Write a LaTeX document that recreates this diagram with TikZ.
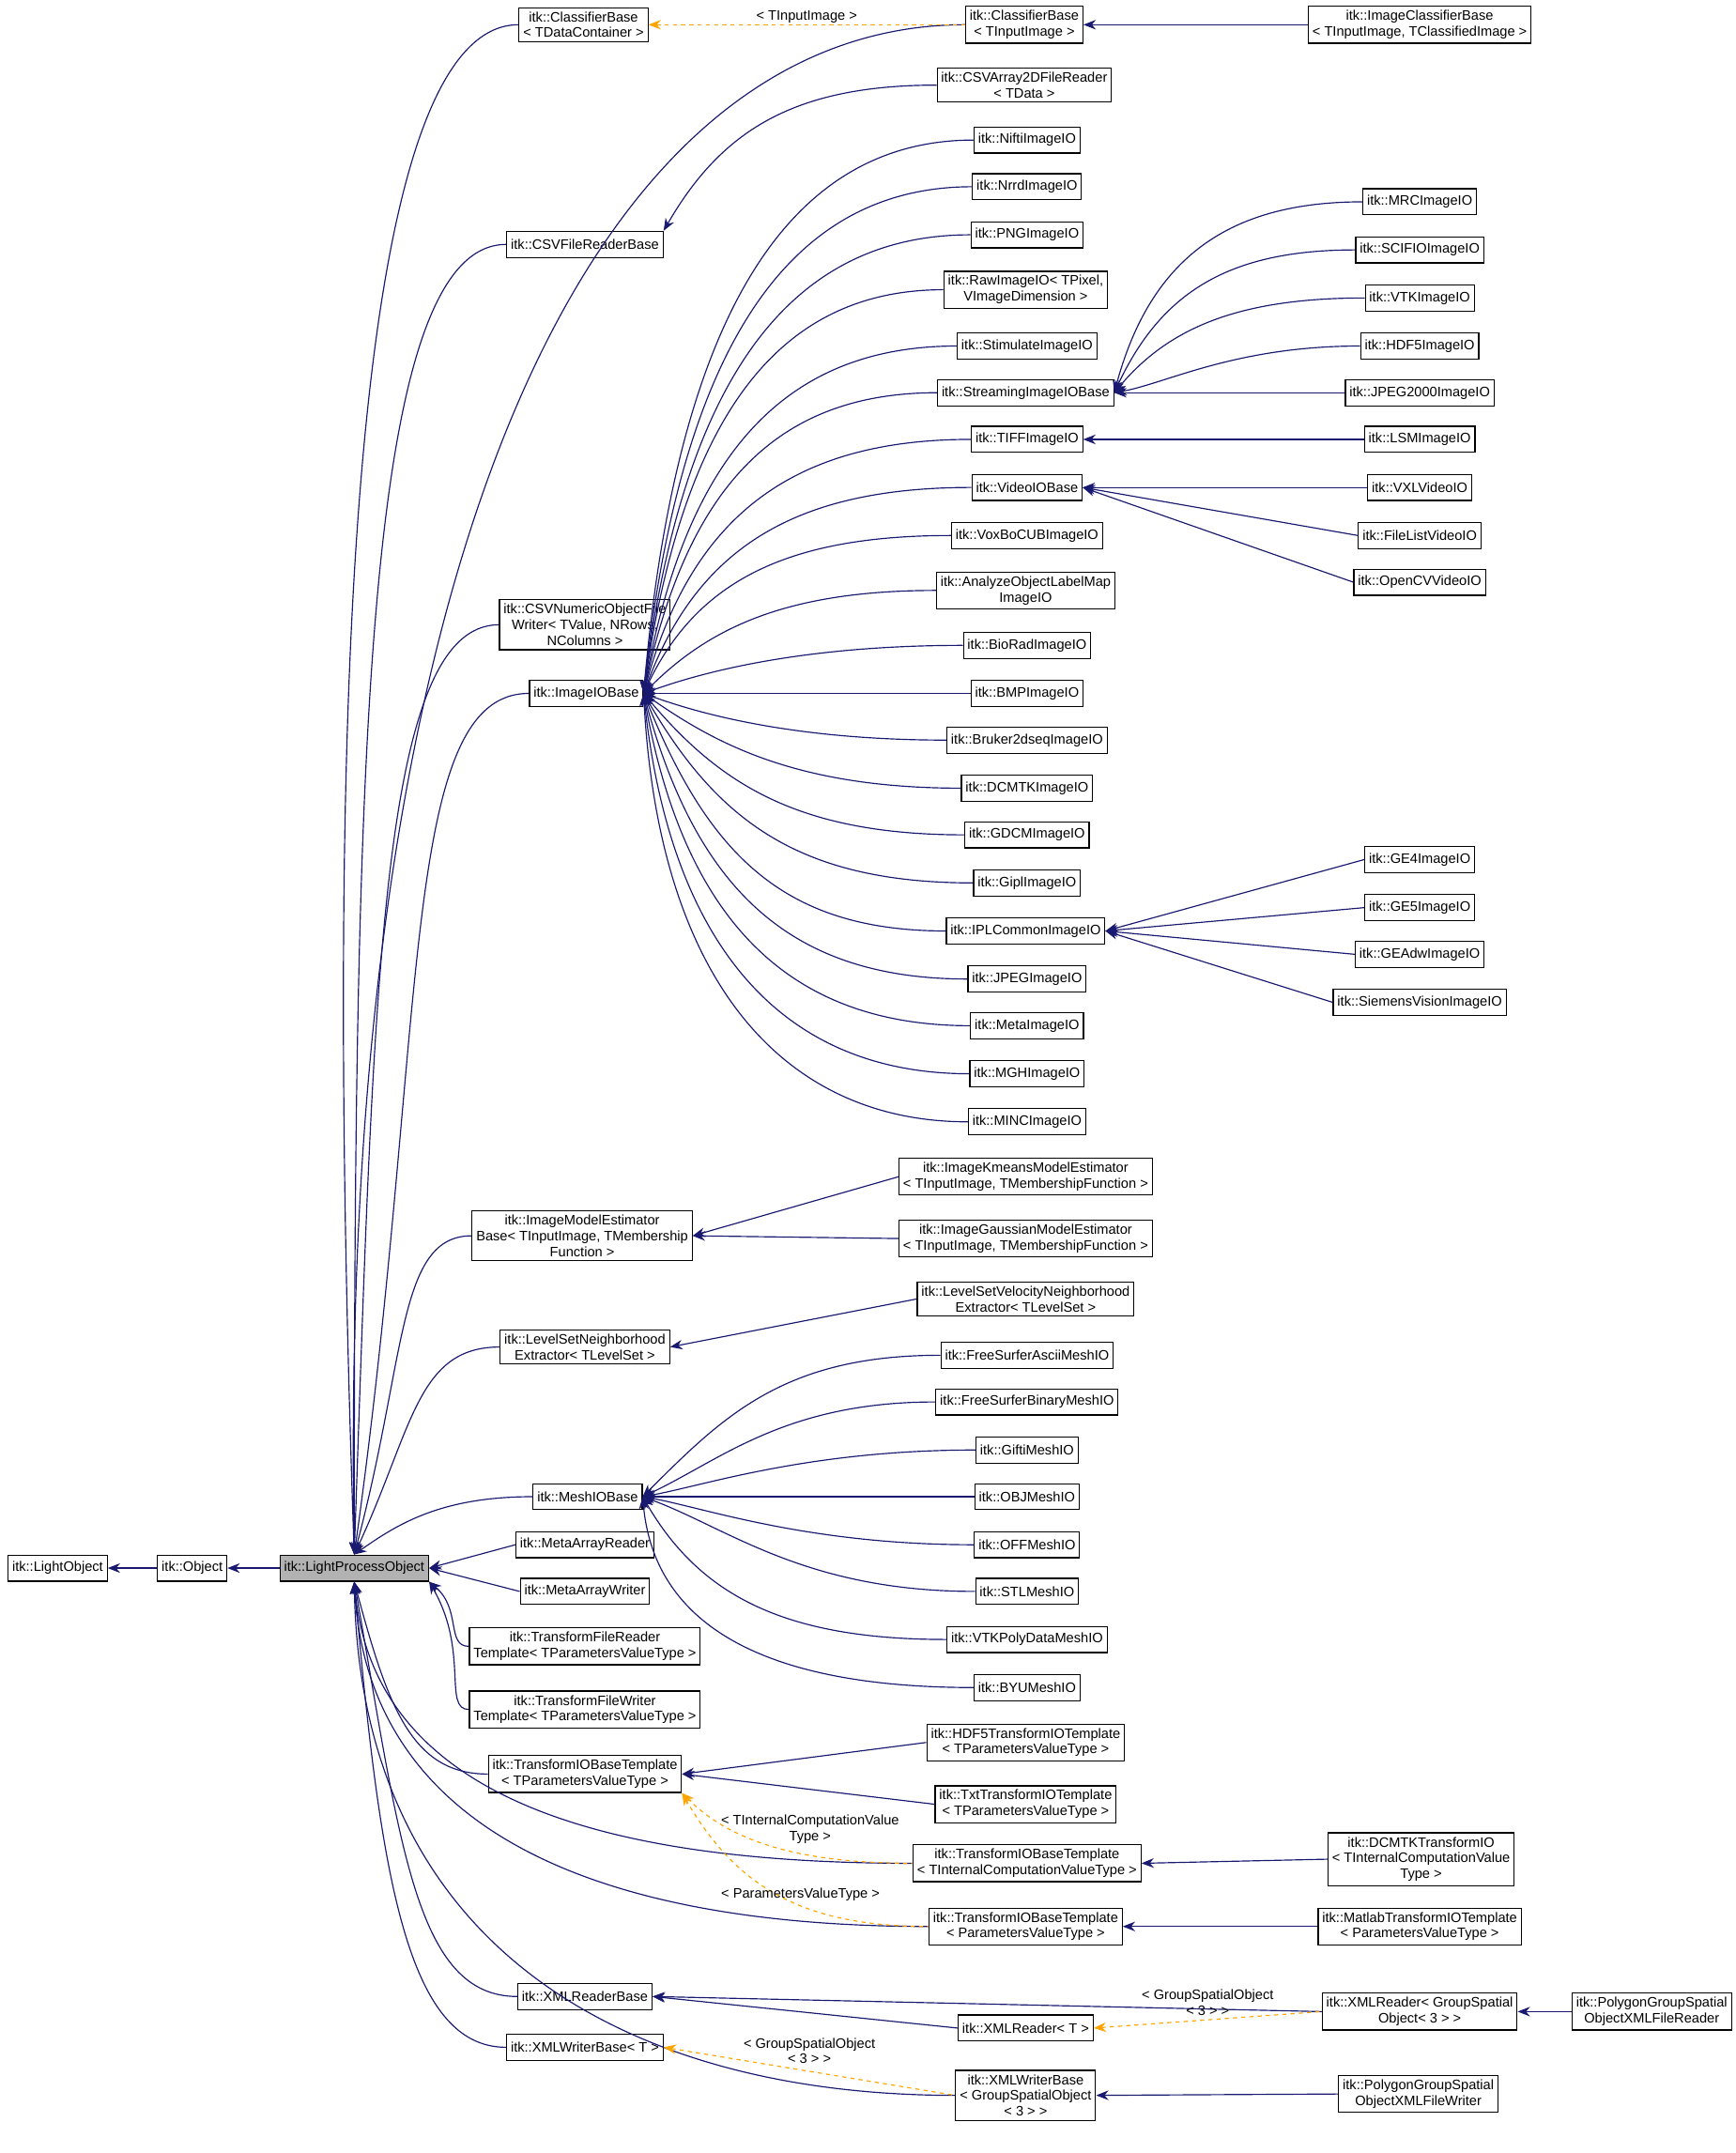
\documentclass[tikz,border=0pt]{standalone}
\usepackage{fontspec}
\setmainfont{Liberation Sans}
\usetikzlibrary{arrows.meta,calc}
\definecolor{navyc}{RGB}{25,25,112}
\definecolor{orc}{RGB}{255,165,0}
\newcommand\curv[4]{\draw[#1] let \p1=(#2), \p2=(#4), \n1={0.1*abs(\x2-\x1)+0.6*abs(\y2-\y1)}, \n2={0.5*abs(\x2-\x1)+0.05*abs(\y2-\y1)} in (#2) .. controls +(#3:\n1) and +(180:\n2) .. (#4);}
\begin{document}
\begin{tikzpicture}[x=1pt,y=1pt,line width=0.8pt,
  box/.style={draw, line width=0.8pt, fill=white, inner sep=3pt, minimum height=19pt, align=center, font=\fontsize{10}{11.5}\selectfont},
  inh/.style={draw=navyc, {Stealth[length=9pt,width=7pt]}-},
  tmpl/.style={draw=orc, dashed, {Stealth[length=9pt,width=7pt]}-},
  lbl/.style={font=\fontsize{10}{11.5}\selectfont, align=center, inner sep=1pt}]
\useasboundingbox (0,0) rectangle (1264,-1568);
% left
\node[box] (lo) at (42,-1142) {itk::LightObject};
\node[box] (ob) at (140,-1142) {itk::Object};
\node[box, fill=gray!60] (lpo) at (258,-1142) {itk::LightProcessObject};
% column 2
\node[box] (cbdc) at (425,-18) {itk::ClassifierBase\\\textless{} TDataContainer \textgreater};
\node[box] (csvr) at (426,-178) {itk::CSVFileReaderBase};
\node[box] (csvw) at (426,-455) {itk::CSVNumericObjectFile\\Writer\textless{} TValue, NRows,\\ NColumns \textgreater};
\node[box] (iob) at (427,-505) {itk::ImageIOBase};
\node[box] (imeb) at (424,-900) {itk::ImageModelEstimator\\Base\textless{} TInputImage, TMembership\\Function \textgreater};
\node[box] (lsne) at (426,-981) {itk::LevelSetNeighborhood\\Extractor\textless{} TLevelSet \textgreater};
\node[box] (mesh) at (428,-1090) {itk::MeshIOBase};
\node[box] (mar) at (426,-1125) {itk::MetaArrayReader};
\node[box] (maw) at (426,-1159) {itk::MetaArrayWriter};
\node[box] (tfr) at (426,-1199) {itk::TransformFileReader\\Template\textless{} TParametersValueType \textgreater};
\node[box] (tfw) at (426,-1245) {itk::TransformFileWriter\\Template\textless{} TParametersValueType \textgreater};
\node[box] (tiob) at (426,-1292) {itk::TransformIOBaseTemplate\\\textless{} TParametersValueType \textgreater};
\node[box] (xrb) at (426,-1454) {itk::XMLReaderBase};
\node[box] (xwb) at (426,-1491) {itk::XMLWriterBase\textless{} T \textgreater};
% column 3
\node[box] (cbti) at (746,-18) {itk::ClassifierBase\\\textless{} TInputImage \textgreater};
\node[box] (csva) at (746,-62) {itk::CSVArray2DFileReader\\\textless{} TData \textgreater};
\node[box] (nifti) at (748,-102) {itk::NiftiImageIO};
\node[box] (nrrd) at (748,-136) {itk::NrrdImageIO};
\node[box] (png) at (748,-171) {itk::PNGImageIO};
\node[box] (raw) at (747,-211) {itk::RawImageIO\textless{} TPixel,\\ VImageDimension \textgreater};
\node[box] (stim) at (748,-252) {itk::StimulateImageIO};
\node[box] (siob) at (747,-286) {itk::StreamingImageIOBase};
\node[box] (tiff) at (748,-320) {itk::TIFFImageIO};
\node[box] (vio) at (748,-355) {itk::VideoIOBase};
\node[box] (voxbo) at (748,-390) {itk::VoxBoCUBImageIO};
\node[box] (anl) at (747,-430) {itk::AnalyzeObjectLabelMap\\ImageIO};
\node[box] (biorad) at (748,-470) {itk::BioRadImageIO};
\node[box] (bmp) at (748,-505) {itk::BMPImageIO};
\node[box] (bruker) at (748,-539) {itk::Bruker2dseqImageIO};
\node[box] (dcmtk) at (748,-574) {itk::DCMTKImageIO};
\node[box] (gdcm) at (748,-608) {itk::GDCMImageIO};
\node[box] (gipl) at (748,-643) {itk::GiplImageIO};
\node[box] (ipl) at (747,-678) {itk::IPLCommonImageIO};
\node[box] (jpeg) at (748,-713) {itk::JPEGImageIO};
\node[box] (meta) at (748,-747) {itk::MetaImageIO};
\node[box] (mgh) at (748,-782) {itk::MGHImageIO};
\node[box] (minc) at (748,-817) {itk::MINCImageIO};
\node[box] (km) at (747,-857) {itk::ImageKmeansModelEstimator\\\textless{} TInputImage, TMembershipFunction \textgreater};
\node[box] (ga) at (747,-902) {itk::ImageGaussianModelEstimator\\\textless{} TInputImage, TMembershipFunction \textgreater};
\node[box] (lsv) at (747,-946) {itk::LevelSetVelocityNeighborhood\\Extractor\textless{} TLevelSet \textgreater};
\node[box] (fsa) at (748,-987) {itk::FreeSurferAsciiMeshIO};
\node[box] (fsb) at (748,-1021) {itk::FreeSurferBinaryMeshIO};
\node[box] (gifti) at (748,-1056) {itk::GiftiMeshIO};
\node[box] (objm) at (748,-1090) {itk::OBJMeshIO};
\node[box] (offm) at (748,-1125) {itk::OFFMeshIO};
\node[box] (stlm) at (748,-1159) {itk::STLMeshIO};
\node[box] (vtkp) at (748,-1194) {itk::VTKPolyDataMeshIO};
\node[box] (byu) at (748,-1229) {itk::BYUMeshIO};
\node[box] (hdft) at (747,-1269) {itk::HDF5TransformIOTemplate\\\textless{} TParametersValueType \textgreater};
\node[box] (txtt) at (747,-1314) {itk::TxtTransformIOTemplate\\\textless{} TParametersValueType \textgreater};
\node[box] (tioi) at (748,-1357) {itk::TransformIOBaseTemplate\\\textless{} TInternalComputationValueType \textgreater};
\node[box] (tiop) at (747,-1403) {itk::TransformIOBaseTemplate\\\textless{} ParametersValueType \textgreater};
\node[box] (xrt) at (747,-1477) {itk::XMLReader\textless{} T \textgreater};
\node[box] (xwg) at (747,-1526) {itk::XMLWriterBase\\\textless{} GroupSpatialObject\\\textless{} 3 \textgreater{} \textgreater};
% column 4
\node[box] (icb) at (1034,-18) {itk::ImageClassifierBase\\\textless{} TInputImage, TClassifiedImage \textgreater};
\node[box] (mrc) at (1034,-147) {itk::MRCImageIO};
\node[box] (scifio) at (1034,-182) {itk::SCIFIOImageIO};
\node[box] (vtki) at (1034,-217) {itk::VTKImageIO};
\node[box] (hdf5i) at (1034,-252) {itk::HDF5ImageIO};
\node[box] (j2k) at (1034,-286) {itk::JPEG2000ImageIO};
\node[box] (lsm) at (1034,-320) {itk::LSMImageIO};
\node[box] (vxl) at (1034,-355) {itk::VXLVideoIO};
\node[box] (flv) at (1034,-390) {itk::FileListVideoIO};
\node[box] (ocv) at (1034,-424) {itk::OpenCVVideoIO};
\node[box] (ge4) at (1034,-626) {itk::GE4ImageIO};
\node[box] (ge5) at (1034,-661) {itk::GE5ImageIO};
\node[box] (geadw) at (1034,-695) {itk::GEAdwImageIO};
\node[box] (siem) at (1034,-730) {itk::SiemensVisionImageIO};
\node[box] (dcmt) at (1035,-1354) {itk::DCMTKTransformIO\\\textless{} TInternalComputationValue\\Type \textgreater};
\node[box] (matl) at (1034,-1403) {itk::MatlabTransformIOTemplate\\\textless{} ParametersValueType \textgreater};
\node[box] (xrg) at (1034,-1465) {itk::XMLReader\textless{} GroupSpatial\\Object\textless{} 3 \textgreater{} \textgreater};
\node[box] (pgw) at (1033,-1525) {itk::PolygonGroupSpatial\\ObjectXMLFileWriter};
\node[box] (pgr) at (1203,-1465) {itk::PolygonGroupSpatial\\ObjectXMLFileReader};
% edges basic
\draw[inh] (lo.east) -- (ob.west);
\draw[inh] (ob.east) -- (lpo.west);
% LPO children
\foreach \cc/\aa in {cbdc/92,csvr/90,csvw/88,iob/82,imeb/75,lsne/65,mesh/35}
  {\curv{inh}{lpo.north}{\aa}{\cc.west}}
\curv{inh}{lpo.north}{91}{cbti.west}
\draw[inh] (lpo.east) -- (mar.west);
\draw[inh] (lpo.east) -- (maw.west);
\curv{inh}{lpo.south east}{-40}{tfr.west}
\curv{inh}{lpo.south east}{-60}{tfw.west}
\curv{inh}{lpo.south}{-75}{tiob.west}
\curv{inh}{lpo.south}{-85}{tioi.west}
\curv{inh}{lpo.south}{-87}{tiop.west}
\curv{inh}{lpo.south}{-80}{xrb.west}
\curv{inh}{lpo.south}{-85}{xwb.west}
\curv{inh}{lpo.south}{-89}{xwg.west}
% others
\draw[inh] (cbti.east) -- (icb.west);
\draw[tmpl] (cbdc.east) -- node[lbl, above] {\textless{} TInputImage \textgreater} (cbti.west);
\curv{inh}{csvr.north east}{60}{csva.west}
\foreach \cc/\aa in {nifti/85,nrrd/84,png/83,raw/82,stim/80,siob/78,tiff/75,vio/70,voxbo/65,anl/45,biorad/20,bmp/0,bruker/-20,dcmtk/-35,gdcm/-50,gipl/-60,ipl/-68,jpeg/-75,meta/-80,mgh/-84,minc/-87}
  {\curv{inh}{iob.east}{\aa}{\cc.west}}
\foreach \cc/\aa in {mrc/75,scifio/65,vtki/50,hdf5i/10,j2k/0}
  {\curv{inh}{siob.east}{\aa}{\cc.west}}
\draw[inh] (tiff.east) -- (lsm.west);
\foreach \cc in {vxl,flv,ocv} {\draw[inh] (vio.east) -- (\cc.west);}
\foreach \cc in {ge4,ge5,geadw,siem} {\draw[inh] (ipl.east) -- (\cc.west);}
\draw[inh] (imeb.east) -- (km.west);
\draw[inh] (imeb.east) -- (ga.west);
\draw[inh] (lsne.east) -- (lsv.west);
\foreach \cc/\aa in {fsa/45,fsb/25,gifti/10,objm/0,offm/-10,stlm/-20,vtkp/-60,byu/-85}
  {\curv{inh}{mesh.east}{\aa}{\cc.west}}
\draw[inh] (tiob.east) -- (hdft.west);
\draw[inh] (tiob.east) -- (txtt.west);
\curv{tmpl}{tiob.south east}{-45}{tioi.west}
\curv{tmpl}{tiob.south east}{-60}{tiop.west}
\node[lbl] (l1) at (590,-1332) {\textless{} TInternalComputationValue\\Type \textgreater};
\node[lbl] (l2) at (583,-1380) {\textless{} ParametersValueType \textgreater};
\draw[inh] (tioi.east) -- (dcmt.west);
\draw[inh] (tiop.east) -- (matl.west);
\draw[inh] (xrb.east) -- (xrg.west);
\draw[inh] (xrb.east) -- (xrt.west);
\draw[tmpl] (xrt.east) -- node[lbl, above=2pt] {\textless{} GroupSpatialObject\\\textless{} 3 \textgreater{} \textgreater} (xrg.west);
\draw[inh] (xrg.east) -- (pgr.west);
\draw[tmpl] (xwb.east) -- node[lbl, above=4pt] {\textless{} GroupSpatialObject\\\textless{} 3 \textgreater{} \textgreater} (xwg.west);
\draw[inh] (xwg.east) -- (pgw.west);
\end{tikzpicture}
\end{document}
